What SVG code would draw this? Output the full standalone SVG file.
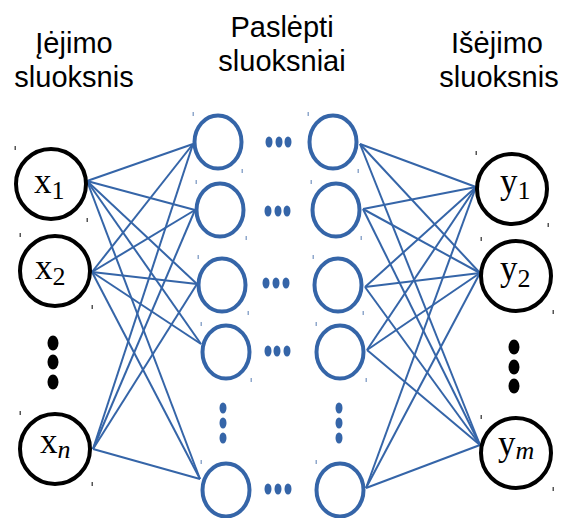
<svg xmlns="http://www.w3.org/2000/svg" width="567" height="518" viewBox="0 0 567 518">
<style>
.hdr{font-family:"Liberation Sans",Arial,sans-serif;font-size:29px;fill:#000;text-anchor:middle}
.io{fill:#fff;stroke:#000;stroke-width:4}
.hid{fill:#fff;stroke:#3565A8;stroke-width:4}
.lbl{font-family:"Liberation Serif","Times New Roman",serif;font-size:35px;fill:#000}
.sub{font-size:26px}
.it{font-style:italic}
.bd{fill:#000}
.hd{fill:#3565A8}
.c line{stroke:#3565A8;stroke-width:2}
.tk{fill:#555}
.tb{fill:#8fa8cc}
</style>
<rect width="567" height="518" fill="#fff"/>
<g id="headers">
<text class="hdr" x="74" y="53">Įėjimo</text>
<text class="hdr" x="74" y="87">sluoksnis</text>
<text class="hdr" x="282" y="37">Paslėpti</text>
<text class="hdr" x="282" y="71">sluoksniai</text>
<text class="hdr" x="497" y="53">Išėjimo</text>
<text class="hdr" x="499" y="87">sluoksnis</text>
</g>
<g id="connectors" class="c">
<line x1="87" y1="181" x2="193" y2="144"/>
<line x1="87" y1="181" x2="195" y2="210"/>
<line x1="87" y1="181" x2="197" y2="284"/>
<line x1="87" y1="181" x2="201" y2="344"/>
<line x1="87" y1="181" x2="200" y2="479"/>
<line x1="92" y1="272" x2="193" y2="144"/>
<line x1="92" y1="272" x2="195" y2="210"/>
<line x1="92" y1="272" x2="197" y2="284"/>
<line x1="92" y1="272" x2="201" y2="344"/>
<line x1="92" y1="272" x2="200" y2="479"/>
<line x1="93" y1="449" x2="193" y2="144"/>
<line x1="93" y1="449" x2="195" y2="210"/>
<line x1="93" y1="449" x2="197" y2="284"/>
<line x1="93" y1="449" x2="200" y2="479"/>
<line x1="360" y1="144" x2="476" y2="187"/>
<line x1="360" y1="144" x2="480" y2="273"/>
<line x1="360" y1="144" x2="480" y2="445"/>
<line x1="363" y1="209" x2="476" y2="187"/>
<line x1="363" y1="209" x2="480" y2="273"/>
<line x1="363" y1="209" x2="480" y2="445"/>
<line x1="365" y1="287" x2="476" y2="187"/>
<line x1="365" y1="287" x2="480" y2="273"/>
<line x1="365" y1="287" x2="480" y2="445"/>
<line x1="367" y1="350" x2="476" y2="187"/>
<line x1="367" y1="350" x2="480" y2="273"/>
<line x1="367" y1="350" x2="480" y2="445"/>
<line x1="366" y1="488" x2="476" y2="187"/>
<line x1="366" y1="488" x2="480" y2="273"/>
<line x1="366" y1="488" x2="480" y2="445"/>
</g>
<g id="x1"><circle class="io" cx="51" cy="184" r="35"/><text class="lbl" x="34" y="193">x<tspan class="sub" dy="6">1</tspan></text></g>
<g id="x2"><circle class="io" cx="55" cy="271" r="35"/><text class="lbl" x="35" y="279">x<tspan class="sub" dy="6">2</tspan></text></g>
<g id="xn"><circle class="io" cx="55" cy="449" r="35"/><text class="lbl" x="40" y="453">x<tspan class="sub it" dy="5">n</tspan></text></g>
<g id="input-dots"><ellipse class="bd" cx="53" cy="343" rx="5.5" ry="7.5"/><ellipse class="bd" cx="53" cy="362" rx="5.5" ry="7.5"/><ellipse class="bd" cx="53" cy="382" rx="5.5" ry="7.5"/></g>
<g id="h1l"><ellipse class="hid" cx="218" cy="142" rx="23.5" ry="26.5"/></g>
<g id="h2l"><ellipse class="hid" cx="220" cy="210" rx="23.5" ry="26.5"/></g>
<g id="h3l"><ellipse class="hid" cx="222" cy="285" rx="23.5" ry="26.5"/></g>
<g id="h4l"><ellipse class="hid" cx="226" cy="352" rx="23.5" ry="26.5"/></g>
<g id="h5l"><ellipse class="hid" cx="226" cy="490" rx="23.5" ry="26.5"/></g>
<g id="h1r"><ellipse class="hid" cx="333" cy="142" rx="23.5" ry="26.5"/></g>
<g id="h2r"><ellipse class="hid" cx="336" cy="210" rx="23.5" ry="26.5"/></g>
<g id="h3r"><ellipse class="hid" cx="338" cy="285" rx="23.5" ry="26.5"/></g>
<g id="h4r"><ellipse class="hid" cx="340" cy="352" rx="23.5" ry="26.5"/></g>
<g id="h5r"><ellipse class="hid" cx="340" cy="490" rx="23.5" ry="26.5"/></g>
<g id="hidden-dots">
<ellipse class="hd" cx="269" cy="142" rx="3.5" ry="5.5"/><ellipse class="hd" cx="279" cy="142" rx="3.5" ry="5.5"/><ellipse class="hd" cx="288" cy="142" rx="3.5" ry="5.5"/>
<ellipse class="hd" cx="268" cy="211" rx="3.5" ry="5.5"/><ellipse class="hd" cx="278" cy="211" rx="3.5" ry="5.5"/><ellipse class="hd" cx="287" cy="211" rx="3.5" ry="5.5"/>
<ellipse class="hd" cx="266" cy="283" rx="3.5" ry="5.5"/><ellipse class="hd" cx="276" cy="283" rx="3.5" ry="5.5"/><ellipse class="hd" cx="286" cy="283" rx="3.5" ry="5.5"/>
<ellipse class="hd" cx="268" cy="351" rx="3.5" ry="5.5"/><ellipse class="hd" cx="277" cy="351" rx="3.5" ry="5.5"/><ellipse class="hd" cx="287" cy="351" rx="3.5" ry="5.5"/>
<ellipse class="hd" cx="268" cy="489" rx="3.5" ry="5.5"/><ellipse class="hd" cx="278" cy="489" rx="3.5" ry="5.5"/><ellipse class="hd" cx="288" cy="489" rx="3.5" ry="5.5"/>
<ellipse class="hd" cx="223" cy="408" rx="3.5" ry="5.5"/><ellipse class="hd" cx="223" cy="423" rx="3.5" ry="5.5"/><ellipse class="hd" cx="223" cy="438" rx="3.5" ry="5.5"/>
<ellipse class="hd" cx="339" cy="408" rx="3.5" ry="5.5"/><ellipse class="hd" cx="339" cy="423" rx="3.5" ry="5.5"/><ellipse class="hd" cx="339" cy="438" rx="3.5" ry="5.5"/>
</g>
<g id="y1"><circle class="io" cx="512" cy="189" r="35"/><text class="lbl" x="500" y="193">y<tspan class="sub" dy="6">1</tspan></text></g>
<g id="y2"><circle class="io" cx="516" cy="276" r="35"/><text class="lbl" x="500" y="280">y<tspan class="sub" dy="7">2</tspan></text></g>
<g id="ym"><circle class="io" cx="516" cy="453" r="35"/><text class="lbl" x="498" y="455">y<tspan class="sub it" dy="4">m</tspan></text></g>
<g id="output-dots"><ellipse class="bd" cx="514" cy="347" rx="5.5" ry="7.5"/><ellipse class="bd" cx="514" cy="367" rx="5.5" ry="7.5"/><ellipse class="bd" cx="514" cy="386" rx="5.5" ry="7.5"/></g>
<g id="ticks">
<rect class="tk" x="14.5" y="146" width="1.5" height="4"/><rect class="tk" x="86.5" y="218" width="1.5" height="4"/>
<rect class="tk" x="19.5" y="233" width="1.5" height="4"/><rect class="tk" x="91.5" y="305" width="1.5" height="4"/>
<rect class="tk" x="19.5" y="411" width="1.5" height="4"/><rect class="tk" x="91.5" y="482" width="1.5" height="4"/>
<rect class="tk" x="475.5" y="151" width="1.5" height="4"/><rect class="tk" x="547.5" y="223" width="1.5" height="4"/>
<rect class="tk" x="480.5" y="237" width="1.5" height="4"/><rect class="tk" x="552.5" y="310" width="1.5" height="4"/>
<rect class="tk" x="480.5" y="415" width="1.5" height="4"/><rect class="tk" x="552.5" y="487" width="1.5" height="4"/>
<rect class="tb" x="192.5" y="112" width="1.5" height="4"/><rect class="tb" x="241.5" y="169" width="1.5" height="4"/>
<rect class="tb" x="195.5" y="180" width="1.5" height="4"/><rect class="tb" x="245.5" y="236" width="1.5" height="4"/>
<rect class="tb" x="197.5" y="255" width="1.5" height="4"/><rect class="tb" x="247.5" y="311" width="1.5" height="4"/>
<rect class="tb" x="200.5" y="322" width="1.5" height="4"/><rect class="tb" x="250.5" y="378" width="1.5" height="4"/>
<rect class="tb" x="200.5" y="460" width="1.5" height="4"/>
<rect class="tb" x="307.5" y="112" width="1.5" height="4"/><rect class="tb" x="357.5" y="169" width="1.5" height="4"/>
<rect class="tb" x="310.5" y="180" width="1.5" height="4"/><rect class="tb" x="360.5" y="236" width="1.5" height="4"/>
<rect class="tb" x="312.5" y="255" width="1.5" height="4"/><rect class="tb" x="362.5" y="311" width="1.5" height="4"/>
<rect class="tb" x="315.5" y="322" width="1.5" height="4"/><rect class="tb" x="365.5" y="378" width="1.5" height="4"/>
<rect class="tb" x="315.5" y="460" width="1.5" height="4"/>
</g>
</svg>
